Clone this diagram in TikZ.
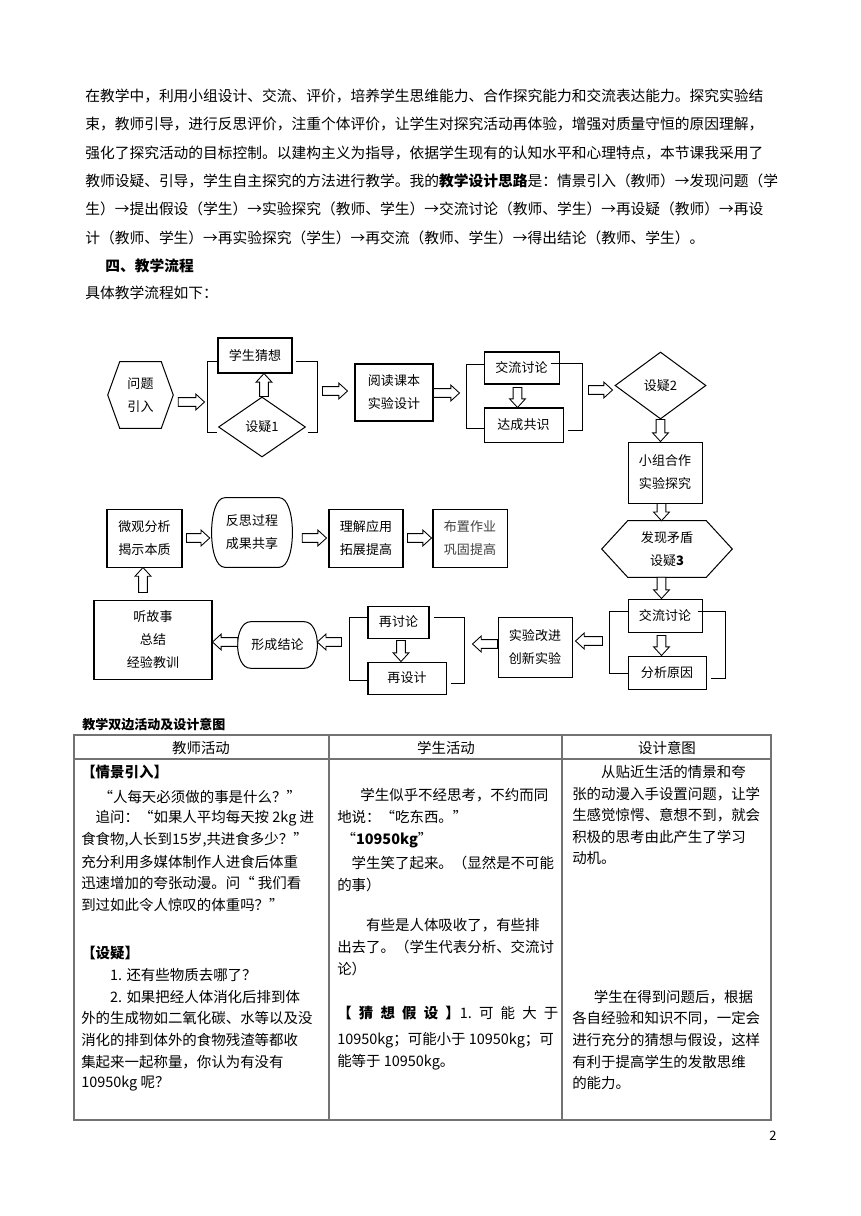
\documentclass[tikz,border=0pt]{standalone}
\usepackage{fontspec}
\setmainfont{Noto Sans CJK SC}
\usetikzlibrary{calc,shapes.geometric}

\newcommand{\upx}{0.6919pt}
\newcommand{\ash}{3pt}
\newcommand{\ahw}{5.5pt}
\newcommand{\ahl}{6pt}
\newcommand{\ftxt}{\fontsize{10.2pt}{12pt}\selectfont}
\newcommand{\fflow}{\fontsize{9pt}{15.9pt}\selectfont}
\newcommand{\fcell}{\fontsize{10pt}{12pt}\selectfont}

% fleches creuses
\newcommand{\arrR}[2]{\draw[blk] let \p1=#1, \p2=#2 in
  (\x1,\y1+\ash) -- (\x2-\ahl,\y1+\ash) -- (\x2-\ahl,\y1+\ahw) -- (\x2,\y1)
  -- (\x2-\ahl,\y1-\ahw) -- (\x2-\ahl,\y1-\ash) -- (\x1,\y1-\ash) -- cycle;}
\newcommand{\arrL}[2]{\draw[blk] let \p1=#1, \p2=#2 in
  (\x1,\y1+\ash) -- (\x2+\ahl,\y1+\ash) -- (\x2+\ahl,\y1+\ahw) -- (\x2,\y1)
  -- (\x2+\ahl,\y1-\ahw) -- (\x2+\ahl,\y1-\ash) -- (\x1,\y1-\ash) -- cycle;}
\newcommand{\arrD}[2]{\draw[blk] let \p1=#1, \p2=#2 in
  (\x1+\ash,\y1) -- (\x1+\ash,\y2+\ahl) -- (\x1+\ahw,\y2+\ahl) -- (\x1,\y2)
  -- (\x1-\ahw,\y2+\ahl) -- (\x1-\ash,\y2+\ahl) -- (\x1-\ash,\y1) -- cycle;}
\newcommand{\arrU}[2]{\draw[blk] let \p1=#1, \p2=#2 in
  (\x1+\ash,\y1) -- (\x1+\ash,\y2-\ahl) -- (\x1+\ahw,\y2-\ahl) -- (\x1,\y2)
  -- (\x1-\ahw,\y2-\ahl) -- (\x1-\ash,\y2-\ahl) -- (\x1-\ash,\y1) -- cycle;}
% contours speciaux
\newcommand{\hexa}[2]{\draw[line width=0.7pt] (#1.north west) -- (#1.north east)
  -- ($(#1.east)+(#2,0)$) -- (#1.south east) -- (#1.south west)
  -- ($(#1.west)+(-#2,0)$) -- cycle;}
\newcommand{\capsule}[2]{\draw[line width=0.7pt]
  ($(#1.north west)+(#2,0)$) -- ($(#1.north east)+(-#2,0)$)
  .. controls ($(#1.north east)+(4.5,0)$) and ($(#1.south east)+(4.5,0)$) .. ($(#1.south east)+(-#2,0)$)
  -- ($(#1.south west)+(#2,0)$)
  .. controls ($(#1.south west)+(-4.5,0)$) and ($(#1.north west)+(-4.5,0)$) .. cycle;}

\begin{document}
\begin{tikzpicture}[x=0.6919pt, y=-0.6919pt,
  box/.style={draw, line width=0.7pt, inner sep=0pt, align=center, font=\fflow},
  plain/.style={inner sep=0pt, align=center, font=\fflow},
  blk/.style={draw, fill=white, line width=0.6pt, line join=miter},
  brk/.style={line width=0.7pt},
  txt/.style={anchor=west, inner sep=0pt, font=\ftxt},
  cell/.style={anchor=west, inner sep=0pt, font=\fcell},
  tline/.style={draw=black!55, line width=0.9pt}]

  \useasboundingbox[fill=white] (0,0) rectangle (860,1216);

  % Texte
  \foreach \t [count=\i from 0] in {
    {在教学中，利用小组设计、交流、评价，培养学生思维能力、合作探究能力和交流表达能力。探究实验结},
    {束，教师引导，进行反思评价，注重个体评价，让学生对探究活动再体验，增强对质量守恒的原因理解，},
    {强化了探究活动的目标控制。以建构主义为指导，依据学生现有的认知水平和心理特点，本节课我采用了},
    {教师设疑、引导，学生自主探究的方法进行教学。我的\textbf{教学设计思路}是：情景引入（教师）→发现问题（学},
    {生）→提出假设（学生）→实验探究（教师、学生）→交流讨论（教师、学生）→再设疑（教师）→再设},
    {计（教师、学生）→再实验探究（学生）→再交流（教师、学生）→得出结论（教师、学生）。}}
    \node[txt] (p\i) at (85,96+28.3*\i) {\t};
  \node[txt] (p6) at (105,266) {\textbf{四、教学流程}};
  \node[txt] (p7) at (85,293) {具体教学流程如下：};

  % Ligne 1
  \node[plain, minimum width=41*\upx, minimum height=66*\upx] (q1) at (140.5,395) {问题\\引入};
  \hexa{q1}{12}
  \node[box, minimum width=74*\upx, minimum height=35*\upx] (g1) at (255,355.5) {学生猜想};
  \node[box, diamond, minimum width=87*\upx, minimum height=60*\upx] (d1) at (262,427) {设疑1};
  \node[box, minimum width=78*\upx, minimum height=57*\upx] (r1) at (394,392.5) {阅读课本\\实验设计};
  \node[box, minimum width=75*\upx, minimum height=32*\upx] (t1) at (521.5,368) {交流讨论};
  \node[box, minimum width=79*\upx, minimum height=34*\upx] (t2) at (523.5,425) {达成共识};
  \node[box, diamond, minimum width=91*\upx, minimum height=67*\upx] (d2) at (660.5,385.5) {设疑2};

  \draw[brk] ($(g1.south west)+(0,-12)$) -- ++(-10,0) -- ++(0,71) -- ++(10,0);
  \draw[brk] ($(g1.south east)+(3,-12)$) -- ++(22,0) -- ++(0,71) -- ++(-10,0);
  \draw[brk] ($(t1.south west)+(0,-20)$) -- ++(-17,0) -- ++(0,64) -- ++(17,0);
  \draw[brk] ($(t1.south east)+(-9,-21)$) -- ++(32,0) -- ++(0,67) -- ++(-15,0);

  \arrR{($(q1.east)+(17,7)$)}{($(g1.west)+(-13,0)$)}
  \arrU{($(d1.north)+(2,0)$)}{(g1.south)}
  \arrR{($(g1.east)+(30,35.5)$)}{($(r1.west)+(-7,0)$)}
  \arrR{($(r1.east)+(0,0.5)$)}{($(t1.west)+(-24,0)$)}
  \arrD{($(t1.south)+(-4,3)$)}{(t2.north)}
  \arrR{($(t2.east)+(25,-35)$)}{($(d2.west)+(-2,0)$)}

  % Colonne droite
  \node[box, minimum width=74*\upx, minimum height=61*\upx] (s1) at (665,472.5) {小组合作\\实验探究};
  \node[plain, minimum width=78*\upx, minimum height=56*\upx] (h1) at (667,549) {发现矛盾\\设疑\textbf{3}};
  \hexa{h1}{26}
  \node[box, minimum width=74*\upx, minimum height=33*\upx] (c1) at (665,615.5) {交流讨论};
  \node[box, minimum width=78*\upx, minimum height=33*\upx] (c2) at (667,672.5) {分析原因};
  \draw[brk] ($(c1.south west)+(0,-21)$) -- ++(-18,0) -- ++(0,62) -- ++(18,0);
  \draw[brk] ($(c1.south east)+(-5,-21)$) -- ++(28,0) -- ++(0,67) -- ++(-15,0);

  \arrD{(d2.south)}{(s1.north)}
  \arrD{($(s1.south)+(-3.5,0)$)}{(h1.north)}
  \arrD{($(h1.south)+(-5.5,0)$)}{(c1.north)}
  \arrD{($(c1.south)+(-3.5,3)$)}{(c2.north)}

  % Ligne du bas
  \node[box, minimum width=74*\upx, minimum height=60*\upx] (e1) at (535,647) {实验改进\\创新实验};
  \node[box, minimum width=61*\upx, minimum height=32*\upx] (z1) at (398.5,622) {再讨论};
  \node[box, minimum width=78*\upx, minimum height=32*\upx] (z2) at (407,678) {再设计};
  \draw[brk] ($(z1.south west)+(0,-21)$) -- ++(-18,0) -- ++(0,63) -- ++(18,0);
  \draw[brk] ($(z1.south east)+(4,-21)$) -- ++(31,0) -- ++(0,66) -- ++(-14,0);
  \node[plain, minimum width=79*\upx, minimum height=46*\upx] (f1) at (277.5,645) {形成结论};
  \capsule{f1}{13}
  \node[box, minimum width=118*\upx, minimum height=79*\upx] (k1) at (153,639.5) {听故事\\总结\\经验教训};

  \arrL{($(c1.west)+(-25,25.5)$)}{($(e1.east)+(3,0)$)}
  \arrL{($(e1.west)+(0,-3)$)}{($(z1.east)+(43,0)$)}
  \arrD{($(z1.south)+(2.5,2)$)}{(z2.north)}
  \arrL{($(z1.west)+(-26,20)$)}{(f1.east)}
  \arrL{($(f1.west)+(0,-3)$)}{(k1.east)}

  % Ligne du milieu
  \node[box, minimum width=75*\upx, minimum height=58*\upx] (m1) at (144.5,538) {微观分析\\揭示本质};
  \node[plain, minimum width=80*\upx, minimum height=69*\upx] (m2) at (252,532.5) {反思过程\\成果共享};
  \capsule{m2}{13}
  \node[box, minimum width=74*\upx, minimum height=58*\upx] (m3) at (366,538) {理解应用\\拓展提高};
  \node[box, minimum width=74*\upx, minimum height=58*\upx, text=black!75] (m4) at (470,538) {布置作业\\巩固提高};

  \arrU{($(k1.north)+(-10,-7)$)}{(m1.south)}
  \arrR{($(m1.east)+(4,0)$)}{($(m2.west)+(-2,0)$)}
  \arrR{($(m2.east)+(10,5.5)$)}{($(m3.west)+(-2,0)$)}
  \arrR{($(m3.east)+(4,0)$)}{($(m4.west)+(-1,0)$)}

  % Tableau
  \node[anchor=west, inner sep=0pt, font=\bfseries\fontsize{9pt}{11pt}\selectfont] (tt) at (82,725) {教学双边活动及设计意图};
  \draw[tline] (74,735) rectangle (771,1120);
  \draw[tline] (329,735) -- (329,1120);
  \draw[tline] (562,735) -- (562,1120);
  \draw[tline] (74,759) -- (771,759);
  \node[font=\fcell] (th1) at (201,748) {教师活动};
  \node[font=\fcell] (th2) at (446,748) {学生活动};
  \node[font=\fcell] (th3) at (667,748) {设计意图};

  \foreach \y/\t [count=\i] in {
    772/{\textbf{【情景引入】}},
    797/{\hspace*{1.2em}“人每天必须做的事是什么？”},
    818/{\hspace*{1em}追问：“如果人平均每天按 2kg 进},
    840/{食食物,人长到15岁,共进食多少？”},
    862/{充分利用多媒体制作人进食后体重},
    883/{迅速增加的夸张动漫。问“ 我们看},
    905/{到过如此令人惊叹的体重吗？”},
    953/{\textbf{【设疑】}},
    975/{\hspace*{2em}1. 还有些物质去哪了？},
    997/{\hspace*{2em}2. 如果把经人体消化后排到体},
    1018/{外的生成物如二氧化碳、水等以及没},
    1040/{消化的排到体外的食物残渣等都收},
    1062/{集起来一起称量，你认为有没有},
    1084/{10950kg 呢？}}
    \node[cell] (a\i) at (81,\y) {\t};

  \foreach \y/\t [count=\i] in {
    795/{\hspace*{1.6em}学生似乎不经思考，不约而同},
    817/{地说：“吃东西。”},
    840/{\hspace*{0.3em}“\textbf{10950kg}”},
    863/{\hspace*{1em}学生笑了起来。（显然是不可能},
    885/{的事）},
    925/{\hspace*{2em}有些是人体吸收了，有些排},
    947/{出去了。（学生代表分析、交流讨},
    969/{论）},
    1013/{\makebox[153pt][l]{\textbf{【}\hfill\textbf{猜}\hfill\textbf{想}\hfill\textbf{假}\hfill\textbf{设}\hfill\textbf{】}1.\hfill 可\hfill 能\hfill 大\hfill 于}},
    1040/{10950kg；可能小于 10950kg；可},
    1062/{能等于 10950kg。}}
    \node[cell] (b\i) at (337,\y) {\t};

  \foreach \y/\t [count=\i] in {
    772/{\hspace*{2em}从贴近生活的情景和夸},
    794/{张的动漫入手设置问题，让学},
    815/{生感觉惊愕、意想不到，就会},
    837/{积极的思考由此产生了学习},
    858/{动机。},
    997/{\hspace*{1.5em}学生在得到问题后，根据},
    1018/{各自经验和知识不同，一定会},
    1040/{进行充分的猜想与假设，这样},
    1062/{有利于提高学生的发散思维},
    1083/{的能力。}}
    \node[cell] (c3\i) at (572,\y) {\t};

  \node[font=\fontsize{9pt}{10pt}\selectfont] (pg) at (773,1136) {2};

\end{tikzpicture}
\end{document}
